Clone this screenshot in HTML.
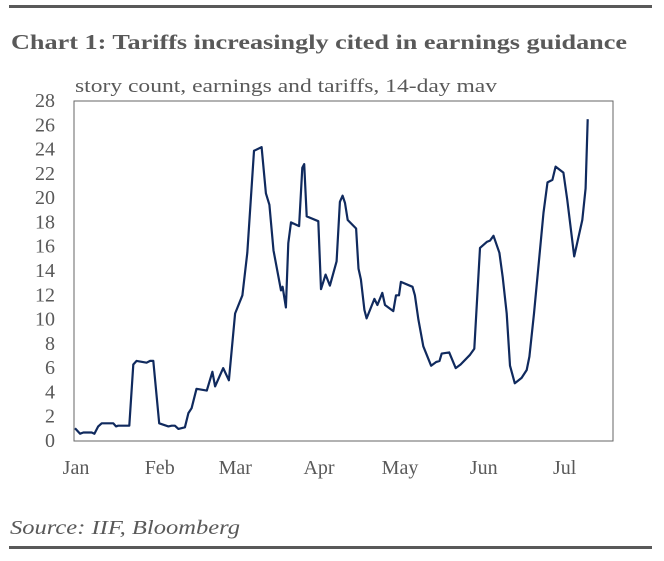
<!DOCTYPE html>
<html><head><meta charset="utf-8"><style>
body{margin:0;background:#fff;width:664px;height:561px;overflow:hidden}
svg{display:block}
text{font-family:"Liberation Serif",serif;fill:#595959}
</style></head><body>
<svg width="664" height="561">
<rect x="9" y="5" width="643" height="3" fill="#595959"/>
<text x="11" y="49" font-size="21" font-weight="bold" textLength="616" lengthAdjust="spacingAndGlyphs">Chart 1:   Tariffs increasingly cited in earnings guidance</text>
<text x="75" y="92" font-size="19" textLength="422" lengthAdjust="spacingAndGlyphs">story count, earnings and tariffs, 14-day mav</text>
<rect x="74" y="101" width="539" height="340" fill="none" stroke="#666" stroke-width="1"/>
<g id="yt"></g><g id="xt"></g>
<path id="line" fill="none" stroke="#102a5e" stroke-width="2.2" stroke-linejoin="round"/>
<text x="10" y="534" font-size="20" font-style="italic" textLength="230" lengthAdjust="spacingAndGlyphs">Source: IIF, Bloomberg</text>
<rect x="9" y="546" width="643" height="3" fill="#595959"/>
</svg>
<script>
const days=[0,1.9,3.1,6.2,7.2,8.6,9.9,14.2,15.2,16,20.1,21.6,22.8,26.5,27.8,29,31.2,34.6,35.8,37,38.3,40.7,42,43.2,45,48.8,50.9,51.9,54.9,57,59.3,62,63.8,66.3,69.1,70.7,72,73.5,76.3,76.9,78.1,79,80,83,84.2,84.9,85.8,90.1,91.1,92.8,94.4,96.9,98.1,99.1,100,101,104.1,105,105.9,107.2,108,110.9,112,113.8,114.8,117.9,118.9,120,120.7,125,125.9,127.2,129,131.9,133.7,135,135.8,138.6,141,142.8,146.3,147.9,150,152.5,153.7,155,157.2,158.4,159.9,161.1,162.9,165.4,167.3,168.3,170,173.5,175,176.8,178,180.9,182.3,184.9,187.9,189.1,189.9];
const values=[1.05,0.6,0.7,0.7,0.6,1.2,1.46,1.46,1.2,1.26,1.26,6.3,6.6,6.45,6.6,6.6,1.46,1.2,1.26,1.26,1.0,1.13,2.3,2.7,4.3,4.15,5.7,4.5,6.0,5.0,10.5,12.0,15.5,23.9,24.2,20.4,19.45,15.7,12.4,12.7,11.0,16.3,18.0,17.7,22.5,22.8,18.5,18.1,12.5,13.7,12.8,14.8,19.7,20.2,19.6,18.2,17.5,14.2,13.3,10.8,10.1,11.7,11.2,12.2,11.2,10.7,12.0,12.0,13.1,12.7,12.0,10.0,7.8,6.2,6.5,6.6,7.2,7.3,6.0,6.3,7.1,7.6,15.9,16.4,16.5,16.9,15.5,13.5,10.5,6.2,4.75,5.2,5.85,6.95,10.5,18.8,21.3,21.5,22.6,22.1,19.9,15.2,18.2,20.8,26.5];
const yTicks=[0,2,4,6,8,10,12,14,16,18,20,22,24,26,28];
const monthLabels=["Jan","Feb","Mar","Apr","May","Jun","Jul"];
const monthDays=[0,31,59,90,120,151,181];
const X=d=>75+d*2.7, Y=v=>441-v*12.143;
const NS="http://www.w3.org/2000/svg";
const yt=document.getElementById('yt'), xt=document.getElementById('xt');
yTicks.forEach(v=>{const t=document.createElementNS(NS,'text');


t.setAttribute('x',55);t.setAttribute('y',Y(v)+6);t.setAttribute('text-anchor','end');t.setAttribute('font-size','20');t.textContent=v;yt.appendChild(t);});
monthLabels.forEach((m,i)=>{const t=document.createElementNS(NS,'text');


t.setAttribute('x',X(monthDays[i])+1);t.setAttribute('y',474);t.setAttribute('text-anchor','middle');t.setAttribute('font-size','20');t.textContent=m;xt.appendChild(t);});
document.getElementById('line').setAttribute('d',days.map((d,i)=>(i?'L':'M')+X(d).toFixed(1)+','+Y(values[i]).toFixed(1)).join(''));
</script>
</body></html>
